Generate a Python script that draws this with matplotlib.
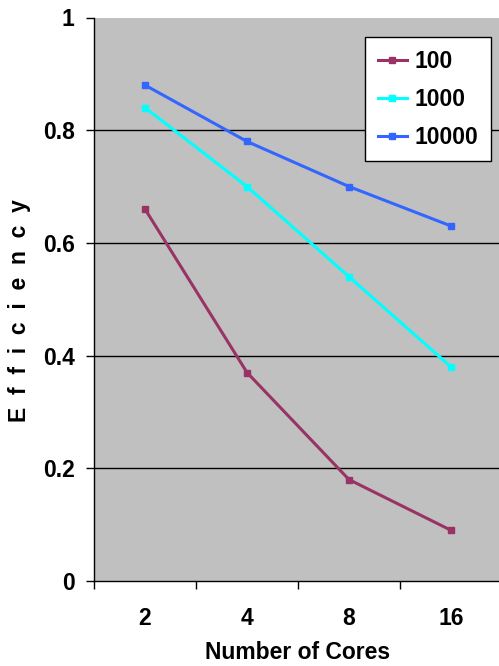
import matplotlib
matplotlib.use("Agg")
import matplotlib.pyplot as plt
import numpy as np

categories = ["2", "4", "8", "16"]
s100 = [0.66, 0.37, 0.18, 0.09]
s1000 = [0.84, 0.70, 0.54, 0.38]
s10000 = [0.88, 0.78, 0.70, 0.63]
series_names = ["100", "1000", "10000"]
colors = ["#993366", "#00FFFF", "#3366FF"]
yticks = [0, 0.2, 0.4, 0.6, 0.8, 1]
ytick_labels = ["0", "0.2", "0.4", "0.6", "0.8", "1"]

plt.rcParams['font.family'] = ['Liberation Sans', 'DejaVu Sans']
FS = 16.5

fig = plt.figure(figsize=(4.99, 6.66), dpi=100)
ax = fig.add_axes([94/499, 1-581/666, 1-94/499 + 0.006, (581-17.5)/666])
ax.set_facecolor("#C0C0C0")

x = np.arange(len(categories))
for vals, name, c in zip([s100, s1000, s10000], series_names, colors):
    ax.plot(x, vals, color=c, lw=2.2, marker='s', markersize=4.5, label=name)

for yv in yticks[1:-1]:
    ax.axhline(yv, color='black', lw=1.0, zorder=0.5)

ax.set_xlim(-0.5, 3.5)
ax.set_ylim(0, 1)
ax.set_yticks(yticks)
ax.set_yticklabels(ytick_labels, fontsize=FS, fontweight='bold')
ax.set_xticks(x)
ax.set_xticklabels(categories, fontsize=FS, fontweight='bold')
ax.set_xticks(np.arange(-0.5, 4, 1), minor=True)
ax.tick_params(axis='x', which='major', length=0, pad=19)
ax.tick_params(axis='x', which='minor', length=6, width=1, direction='out')
ax.tick_params(axis='y', which='major', length=6, width=1, direction='out', pad=8)

ax.spines['top'].set_visible(False)
ax.spines['right'].set_visible(False)
ax.spines['left'].set_linewidth(1)
ax.spines['bottom'].set_linewidth(1)

fig.text(298/499, 2/666, "Number of Cores", fontsize=FS, fontweight='bold',
         ha='center', va='bottom')
fig.text(20/499, 1-311/666, "E  f  f  i  c  i  e  n  c  y", rotation=90, fontsize=FS,
         fontweight='bold', ha='center', va='center')

leg = ax.legend(loc='upper right', bbox_to_anchor=(0.972, 0.965), borderaxespad=0,
                prop={'weight': 'bold', 'size': FS}, frameon=True, fancybox=False,
                handlelength=1.3, handletextpad=0.3, labelspacing=0.65, borderpad=0.55)
leg.get_frame().set_edgecolor('black')
leg.get_frame().set_linewidth(1)
leg.get_frame().set_facecolor('white')
leg.get_frame().set_alpha(1)

fig.savefig("out.png", dpi=100)
